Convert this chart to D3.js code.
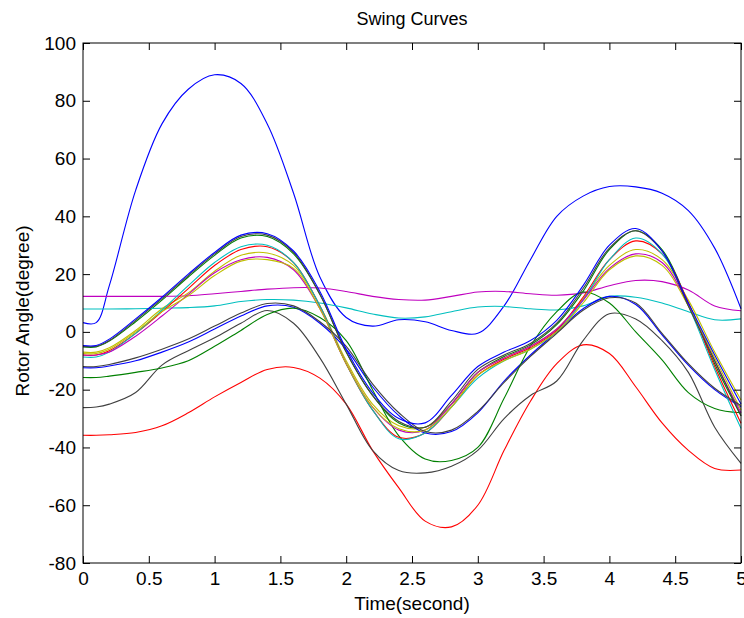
<!DOCTYPE html>
<html>
<head>
<meta charset="utf-8">
<script src="https://cdn.jsdelivr.net/npm/d3@7"></script>
<style>
  body { margin: 0; background: #fff; }
  svg { display: block; font-family: "Liberation Sans", Arial, sans-serif; }
</style>
</head>
<body>
<div id="chart"></div>
<script>
// sample times (s)
const times = [0, 0.1, 0.2, 0.4, 0.6, 0.8, 1.0, 1.2, 1.4, 1.6, 1.8, 2.0, 2.2, 2.4, 2.6, 2.8, 3.0, 3.2, 3.4, 3.6, 3.8, 4.0, 4.2, 4.4, 4.6, 4.8, 5.0];

// rotor angles (degree)
const bigBlue   = [3.2, 3.2, 16, 49, 72, 84, 89, 86, 72, 48, 19, 5, 2, 4.2, 3.5, 0.5, -0.5, 9, 25, 40, 47, 50.3, 50.2, 48, 42, 29, 8];
const flatMag   = [12.3, 12.3, 12.3, 12.3, 12.3, 12.5, 13.2, 14.0, 14.8, 15.3, 15.2, 14.0, 12.3, 11.2, 11.0, 12.3, 13.8, 14.0, 13.2, 12.7, 13.5, 16.0, 17.8, 17.4, 14.5, 9, 7.3];
const flatCyan  = [7.9, 7.9, 7.9, 8.0, 8.2, 8.4, 9.0, 10.5, 11.2, 11.0, 10.0, 8.3, 6.2, 4.8, 5.2, 7.0, 8.6, 8.8, 8.0, 7.6, 9.0, 12.3, 12.0, 10.0, 7.0, 4.2, 4.5];

const upBlue    = [-4.7, -4.7, -2.5, 4.5, 12, 20, 27.5, 33.5, 34, 28, 14, -6, -21, -30, -31.5, -22, -12, -7, -3, 4, 16, 30, 35.8, 28, 10, -8, -25];
const upBlack   = [-5, -5, -3, 4, 11.5, 19.5, 27, 33, 33.5, 27.5, 13, -7, -22, -31, -33, -24, -13, -8, -4, 3, 15, 29, 35, 28, 9, -10, -29];
const upGreen   = [-5.2, -5.2, -3.2, 3.5, 11, 19, 26.5, 32.5, 33, 27, 13, -7, -22, -31.5, -33, -25, -14, -8.5, -4.5, 2.5, 14, 28.5, 35, 28.5, 10, -11, -29];
const upCyan    = [-8.7, -8.7, -7, -0.5, 7.5, 16, 24, 29.5, 30, 24, 9, -11, -27, -37, -35, -26, -16, -10, -6, 0, 11, 25, 32.5, 27, 9, -13, -33.4];
const upRed     = [-8, -8, -6.5, -0.5, 7, 15, 23, 28.5, 29.5, 24, 9, -11, -27, -36.5, -35, -26, -15, -9.5, -5.5, 0.5, 12, 25, 31.5, 27, 10, -12, -31.6];
const upYellow  = [-7, -7, -5.5, 0.5, 8, 13.5, 21, 26.5, 27.3, 23, 9, -10, -25, -32.5, -33, -25, -14, -9, -5, 1, 11.5, 23, 28.5, 25, 11, -7, -23.6];
const upYellow2 = [-7.5, -7.5, -6, 0, 7, 12.5, 19.5, 24.5, 25, 22, 8, -11, -26, -33.5, -34, -26, -15, -10, -6, 0, 10, 21.5, 26.3, 23, 9, -9, -27];
const upMag     = [-8, -8, -7, -1.5, 5.5, 13, 20.5, 25, 25.8, 21.5, 8, -11, -26, -34, -34, -25, -14, -9, -5, 1, 11, 22, 27, 24, 9.5, -10, -28];

const lowBlue   = [-12.4, -12.4, -11.8, -10, -7, -3.5, 1, 5.5, 9, 8.5, 3, -6, -19, -29, -35, -34.5, -28, -17, -8, 0, 8, 12.3, 9.5, -1, -11.5, -20, -26];
const lowBlack  = [-12, -12, -11.3, -9, -6, -2.5, 2, 6.5, 9.8, 9, 3.5, -5, -18, -28, -34.5, -34, -27.5, -17.5, -8.5, -0.5, 7.5, 11.8, 10, -0.5, -11, -19.5, -25.5];
const lowGreen  = [-15.8, -15.8, -15.3, -14, -12.5, -10, -5, 0.5, 6, 8.2, 5, -3, -20, -36, -44, -44.5, -40, -23, -5, 7, 13.8, 10, 0, -9.7, -21, -26.5, -28];
const lowGray   = [-26.2, -26, -25, -21, -11.5, -6.5, -2, 3, 7.4, 3, -9, -25, -41, -48, -48.8, -46.5, -41, -30, -22, -17, -3, 6.3, 4.5, -3, -14, -33, -45.5];
const lowRed    = [-35.8, -35.8, -35.6, -34.8, -32.5, -28, -22.5, -17.5, -13, -12.3, -16, -25, -41, -54, -65.5, -67.5, -60, -41, -24, -11, -4.5, -7.5, -19, -31.5, -41, -47.3, -47.8];

const xTicks = [0, 0.5, 1, 1.5, 2, 2.5, 3, 3.5, 4, 4.5, 5];
const yTicks = [-80, -60, -40, -20, 0, 20, 40, 60, 80, 100];

const series = [
    { values: bigBlue,   color: "#0000ff" },
    { values: upGreen,   color: "#008000" },
    { values: lowRed,    color: "#ff0000" },
    { values: flatCyan,  color: "#00bfbf" },
    { values: flatMag,   color: "#bf00bf" },
    { values: upYellow,  color: "#bfbf00" },
    { values: lowGray,   color: "#404040" },
    { values: lowBlue,   color: "#0000ff" },
    { values: lowGreen,  color: "#008000" },
    { values: upRed,     color: "#ff0000" },
    { values: upCyan,    color: "#00bfbf" },
    { values: upMag,     color: "#bf00bf" },
    { values: upYellow2, color: "#bfbf00" },
    { values: upBlack,   color: "#404040" },
    { values: lowBlack,  color: "#404040" },
    { values: upBlue,    color: "#0000ff" }
];

const width = 744, height = 618;
const margins = { top: 43, right: 3, bottom: 55, left: 83 };

const svg = d3.select("#chart").append("svg")
    .attr("width", width)
    .attr("height", height);

const x = d3.scaleLinear().domain([0, 5]).range([margins.left, width - margins.right]);
const y = d3.scaleLinear().domain([-80, 100]).range([height - margins.bottom, margins.top]);

// curves
const line = d3.line()
    .x((d, i) => x(times[i]))
    .y(d => y(d))
    .curve(d3.curveCatmullRom.alpha(0.5));

svg.append("g")
    .selectAll("path")
    .data(series)
    .join("path")
    .attr("fill", "none")
    .attr("stroke", d => d.color)
    .attr("stroke-width", 1.1)
    .attr("d", d => line(d.values));

// axes box with inward ticks on all sides
const tickLen = 7;
const fmt = d => String(d);

svg.append("g")
    .attr("transform", `translate(0,${y(-80)})`)
    .call(d3.axisBottom(x).tickValues(xTicks).tickSize(-tickLen).tickPadding(9).tickFormat(fmt))
    .call(g => g.select(".domain").remove());

svg.append("g")
    .attr("transform", `translate(0,${y(100)})`)
    .call(d3.axisTop(x).tickValues(xTicks).tickSize(-tickLen).tickFormat(""))
    .call(g => g.select(".domain").remove());

svg.append("g")
    .attr("transform", `translate(${x(0)},0)`)
    .call(d3.axisLeft(y).tickValues(yTicks).tickSize(-tickLen).tickPadding(7).tickFormat(fmt))
    .call(g => g.select(".domain").remove());

svg.append("g")
    .attr("transform", `translate(${x(5)},0)`)
    .call(d3.axisRight(y).tickValues(yTicks).tickSize(-tickLen).tickFormat(""))
    .call(g => g.select(".domain").remove());

svg.selectAll(".tick line").attr("stroke", "#000");
svg.selectAll(".tick text")
    .attr("fill", "#000")
    .attr("font-size", "19px")
    .attr("font-family", "Liberation Sans, Arial, sans-serif");

svg.append("rect")
    .attr("x", x(0))
    .attr("y", y(100))
    .attr("width", x(5) - x(0))
    .attr("height", y(-80) - y(100))
    .attr("fill", "none")
    .attr("stroke", "#000")
    .attr("stroke-width", 1);

// title and labels
svg.append("text")
    .attr("x", (x(0) + x(5)) / 2)
    .attr("y", 25)
    .attr("text-anchor", "middle")
    .attr("font-size", "18px")
    .text("Swing Curves");

svg.append("text")
    .attr("x", (x(0) + x(5)) / 2)
    .attr("y", 610)
    .attr("text-anchor", "middle")
    .attr("font-size", "19px")
    .text("Time(second)");

svg.append("text")
    .attr("transform", `translate(29,${(y(100) + y(-80)) / 2 + 8}) rotate(-90)`)
    .attr("text-anchor", "middle")
    .attr("font-size", "19px")
    .text("Rotor Angle(degree)");
</script>
</body>
</html>
